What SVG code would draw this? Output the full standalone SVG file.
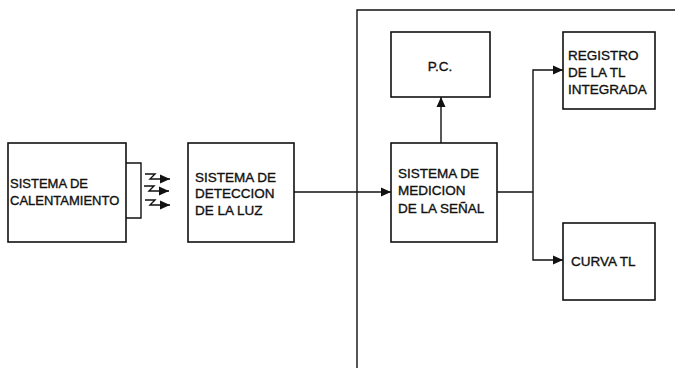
<svg xmlns="http://www.w3.org/2000/svg" width="675" height="368" viewBox="0 0 675 368">
<style>
.box{fill:none;stroke:#111;stroke-width:1.6}
.ln{fill:none;stroke:#111;stroke-width:1.4}
.t{font-family:"Liberation Sans",Arial,sans-serif;font-size:13.5px;fill:#111;stroke:#111;stroke-width:0.35}
</style>
<defs>
<marker id="ah" markerUnits="userSpaceOnUse" markerWidth="10" markerHeight="10" viewBox="0 0 10 10" refX="10" refY="5" orient="auto">
<path d="M0,0.5 L10,5 L0,9.5 Z" fill="#111"/>
</marker>
</defs>
<rect width="675" height="368" fill="#fff"/>
<g id="frame">
<path class="ln" d="M357,368 V10 H675" stroke-width="1.8"/>
</g>
<g id="calentamiento">
<rect class="box" x="8" y="143" width="118" height="99"/>
<path class="ln" d="M126,163 H141 V218 H126"/>
<text class="t" x="10" y="188" style="font-size:13px">SISTEMA DE</text>
<text class="t" x="10" y="205" style="font-size:13px">CALENTAMIENTO</text>
</g>
<g id="luz">
<path class="ln" d="M145,174 h10 l-5,5 h20" marker-end="url(#ah)"/>
<path class="ln" d="M144,186 h10 l-5,5 h20" marker-end="url(#ah)"/>
<path class="ln" d="M145,200 h10 l-5,5 h20" marker-end="url(#ah)"/>
</g>
<g id="deteccion">
<rect class="box" x="188" y="143" width="106" height="99"/>
<text class="t" x="195" y="182">SISTEMA DE</text>
<text class="t" x="195" y="198">DETECCION</text>
<text class="t" x="195" y="215">DE LA LUZ</text>
</g>
<g id="medicion">
<rect class="box" x="391" y="143" width="106" height="99"/>
<text class="t" x="398" y="178">SISTEMA DE</text>
<text class="t" x="398" y="195">MEDICION</text>
<text class="t" x="398" y="213">DE LA SEÑAL</text>
</g>
<g id="pc">
<rect class="box" x="391" y="32" width="99" height="65"/>
<text class="t" x="440" y="71" text-anchor="middle">P.C.</text>
</g>
<g id="registro">
<rect class="box" x="563" y="32" width="92" height="77"/>
<text class="t" x="568" y="60">REGISTRO</text>
<text class="t" x="568" y="77">DE LA TL</text>
<text class="t" x="568" y="94">INTEGRADA</text>
</g>
<g id="curva">
<rect class="box" x="563" y="223" width="92" height="77"/>
<text class="t" x="571" y="266">CURVA TL</text>
</g>
<g id="connectors">
<path class="ln" d="M294,192 H391" marker-end="url(#ah)"/>
<path class="ln" d="M441,143 V97" marker-end="url(#ah)"/>
<path class="ln" d="M497,192 H533"/>
<path class="ln" d="M533,192 V70 H563" marker-end="url(#ah)"/>
<path class="ln" d="M533,192 V260 H563" marker-end="url(#ah)"/>
</g>
</svg>
